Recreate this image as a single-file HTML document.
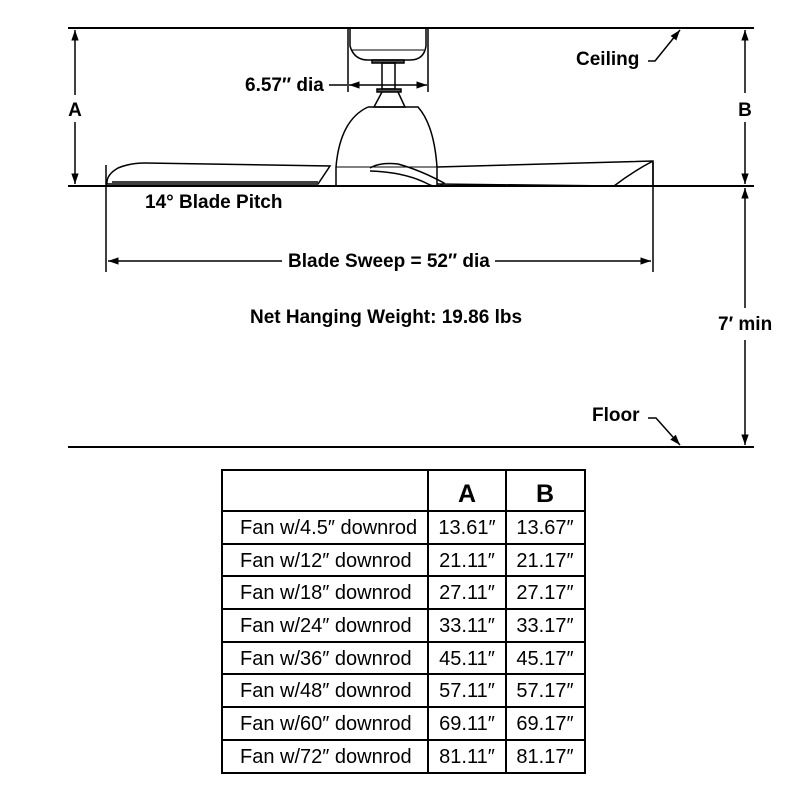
<!DOCTYPE html>
<html><head><style>
body{margin:0;background:#fff;}
svg{display:block;font-family:"Liberation Sans",Arial,sans-serif;}
.b{font-weight:bold;font-size:19px;}
.t{font-size:20px;}
</style></head><body>
<svg width="800" height="800" viewBox="0 0 800 800">
<defs>
<marker id="ar" viewBox="0 0 10 10" refX="10" refY="5" markerWidth="7" markerHeight="7" orient="auto-start-reverse"><path d="M0,1.5 L10,5 L0,8.5 z" fill="#000"/></marker>
</defs>
<g stroke="#000" fill="none" stroke-width="2">
<line x1="68" y1="28" x2="754" y2="28"/>
<line x1="68" y1="186" x2="754" y2="186"/>
<line x1="68" y1="447" x2="754" y2="447"/>
</g>
<g stroke="#000" fill="none" stroke-width="1.5">
<line x1="75" y1="30" x2="75" y2="95" marker-start="url(#ar)"/>
<line x1="75" y1="122" x2="75" y2="184" marker-end="url(#ar)"/>
<line x1="745" y1="30" x2="745" y2="93" marker-start="url(#ar)"/>
<line x1="745" y1="122" x2="745" y2="184" marker-end="url(#ar)"/>
<line x1="745" y1="188" x2="745" y2="308" marker-start="url(#ar)"/>
<line x1="745" y1="340" x2="745" y2="445" marker-end="url(#ar)"/>
<line x1="106" y1="165" x2="106" y2="272"/>
<line x1="653" y1="162" x2="653" y2="272"/>
<line x1="108" y1="261" x2="282" y2="261" marker-start="url(#ar)"/>
<line x1="495" y1="261" x2="651" y2="261" marker-end="url(#ar)"/>
<line x1="329" y1="85" x2="347" y2="85"/>
<line x1="349" y1="85" x2="427" y2="85" marker-start="url(#ar)" marker-end="url(#ar)"/>
<line x1="348" y1="28" x2="348" y2="92"/>
<line x1="428" y1="28" x2="428" y2="92"/>
<path d="M648,61 L655,61 L680,30" marker-end="url(#ar)"/>
<path d="M648,418 L656,418 L680,445" marker-end="url(#ar)"/>
<!-- canopy -->
<path d="M350,28 L350,46 Q354,60 368,60 L410,60 Q424,60 426,46 L426,28"/>
<line x1="352" y1="50" x2="424" y2="50" stroke-width="1"/>
<rect x="372" y="60" width="32" height="3" fill="#555"/>
<rect x="382" y="63" width="13" height="26"/>
<rect x="377" y="89" width="24" height="3" fill="#555"/>
<path d="M382,92 L374,107 L405,107 L398,92"/>
<path d="M368,107 L418,107 Q434,125 437,167 L437,186 M368,107 Q340,120 336,167 L336,186"/>
<line x1="336" y1="167" x2="437" y2="167" stroke-width="1"/>
<!-- left blade -->
<path d="M107,184 Q106,175 118,168 Q130,163 145,163 L330,166 L318,184 Z"/>
<path d="M112,182 L318,182"/>
<!-- center blade -->
<path d="M370,168 Q380,162 398,164 Q420,170 444,183 Q438,189 428,184 Q405,172 370,171"/>
<!-- right blade -->
<path d="M437,167 L653,161 L653,186 M437,184 L614,186 Q632,172 653,161"/>
</g>
<g class="b">
<text x="75" y="116" text-anchor="middle">A</text>
<text x="745" y="116" text-anchor="middle">B</text>
<text x="245" y="91">6.57″ dia</text>
<text x="576" y="65">Ceiling</text>
<text x="145" y="208">14° Blade Pitch</text>
<text x="288" y="267">Blade Sweep = 52″ dia</text>
<text x="250" y="323">Net Hanging Weight: 19.86 lbs</text>
<text x="718" y="330">7′ min</text>
<text x="592" y="421">Floor</text>
</g>
<g stroke="#000" stroke-width="2" fill="none">
<rect x="222" y="470" width="363" height="303"/>
<line x1="428" y1="470" x2="428" y2="773"/>
<line x1="506" y1="470" x2="506" y2="773"/>
<line x1="222" y1="511" x2="585" y2="511"/>
<line x1="222" y1="544" x2="585" y2="544"/>
<line x1="222" y1="576" x2="585" y2="576"/>
<line x1="222" y1="609" x2="585" y2="609"/>
<line x1="222" y1="642" x2="585" y2="642"/>
<line x1="222" y1="674" x2="585" y2="674"/>
<line x1="222" y1="707" x2="585" y2="707"/>
<line x1="222" y1="740" x2="585" y2="740"/>
</g>
<text x="467" y="502" text-anchor="middle" font-weight="bold" font-size="25">A</text>
<text x="545" y="502" text-anchor="middle" font-weight="bold" font-size="25">B</text>
<g class="t">
<text x="240" y="534">Fan w/4.5″ downrod</text><text x="467" y="534" text-anchor="middle">13.61″</text><text x="545" y="534" text-anchor="middle">13.67″</text>
<text x="240" y="567">Fan w/12″ downrod</text><text x="467" y="567" text-anchor="middle">21.11″</text><text x="545" y="567" text-anchor="middle">21.17″</text>
<text x="240" y="599">Fan w/18″ downrod</text><text x="467" y="599" text-anchor="middle">27.11″</text><text x="545" y="599" text-anchor="middle">27.17″</text>
<text x="240" y="632">Fan w/24″ downrod</text><text x="467" y="632" text-anchor="middle">33.11″</text><text x="545" y="632" text-anchor="middle">33.17″</text>
<text x="240" y="665">Fan w/36″ downrod</text><text x="467" y="665" text-anchor="middle">45.11″</text><text x="545" y="665" text-anchor="middle">45.17″</text>
<text x="240" y="697">Fan w/48″ downrod</text><text x="467" y="697" text-anchor="middle">57.11″</text><text x="545" y="697" text-anchor="middle">57.17″</text>
<text x="240" y="730">Fan w/60″ downrod</text><text x="467" y="730" text-anchor="middle">69.11″</text><text x="545" y="730" text-anchor="middle">69.17″</text>
<text x="240" y="763">Fan w/72″ downrod</text><text x="467" y="763" text-anchor="middle">81.11″</text><text x="545" y="763" text-anchor="middle">81.17″</text>
</g>
</svg>
</body></html>
